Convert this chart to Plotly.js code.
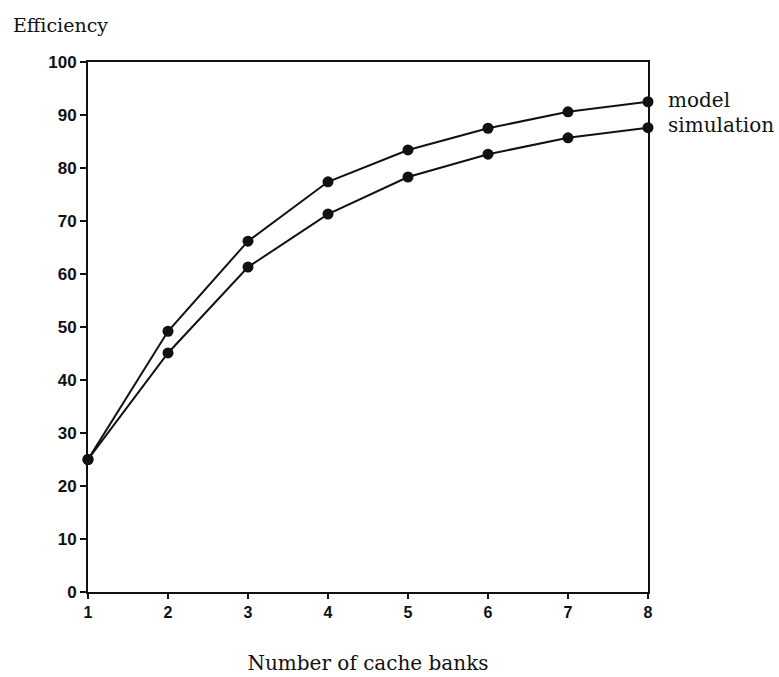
<!DOCTYPE html>
<html>
<head>
<meta charset="utf-8">
<script src="https://cdn.plot.ly/plotly-3.0.1.min.js"></script>
<style>html,body{margin:0;padding:0;background:#fff;}#chart{width:779px;height:677px;}</style>
</head>
<body>
<div id="chart"></div>
<script>
var banks = [1, 2, 3, 4, 5, 6, 7, 8];
var modelEff = [25, 49.2, 66.2, 77.4, 83.4, 87.5, 90.6, 92.5];
var simulationEff = [25, 45.1, 61.3, 71.3, 78.3, 82.6, 85.7, 87.6];
var yTicks = [0, 10, 20, 30, 40, 50, 60, 70, 80, 90, 100];
var seriesNames = ["model", "simulation"];

var serif = "DejaVu Serif, Liberation Serif, serif";
var sans = "Liberation Sans, Arial, sans-serif";

function trace(y, name) {
  return {
    x: banks, y: y, name: name, type: "scatter", mode: "lines+markers",
    line: {color: "#111", width: 2},
    marker: {color: "#111", size: 11},
    cliponaxis: false, hoverinfo: "skip"
  };
}

var data = [trace(modelEff, seriesNames[0]), trace(simulationEff, seriesNames[1])];

var layout = {
  width: 779, height: 677,
  margin: {l: 88, r: 131, t: 62, b: 85},
  paper_bgcolor: "#fff", plot_bgcolor: "#fff",
  showlegend: false,
  xaxis: {
    range: [1, 8], tickvals: banks, ticktext: banks.map(String),
    ticks: "outside", ticklen: 5, tickwidth: 2, tickcolor: "#111",
    showgrid: false, zeroline: false, showline: true, mirror: true,
    linecolor: "#111", linewidth: 2,
    tickfont: {family: sans, size: 16, color: "#111", weight: "bold"},
    title: {text: "Number of cache banks", font: {family: serif, size: 20, color: "#111"}, standoff: 36}
  },
  yaxis: {
    range: [0, 100], tickvals: yTicks,
    ticks: "outside", ticklen: 6, tickwidth: 2, tickcolor: "#111",
    showgrid: false, zeroline: false, showline: true, mirror: true,
    linecolor: "#111", linewidth: 2,
    tickfont: {family: sans, size: 17, color: "#111", weight: "bold"}
  },
  annotations: [
    {text: "Efficiency", xref: "paper", yref: "paper", x: -0.137, y: 1.045,
     xanchor: "left", yanchor: "bottom", showarrow: false,
     font: {family: serif, size: 19, color: "#111"}},
    {text: seriesNames[0], xref: "x", yref: "y", x: 8, y: modelEff[7] + 0.3,
     xanchor: "left", xshift: 18, showarrow: false,
     font: {family: serif, size: 20, color: "#111"}},
    {text: seriesNames[1], xref: "x", yref: "y", x: 8, y: simulationEff[7] + 0.5,
     xanchor: "left", xshift: 18, showarrow: false,
     font: {family: serif, size: 20, color: "#111"}}
  ]
};

Plotly.newPlot("chart", data, layout, {displayModeBar: false, staticPlot: true});
</script>
</body>
</html>
